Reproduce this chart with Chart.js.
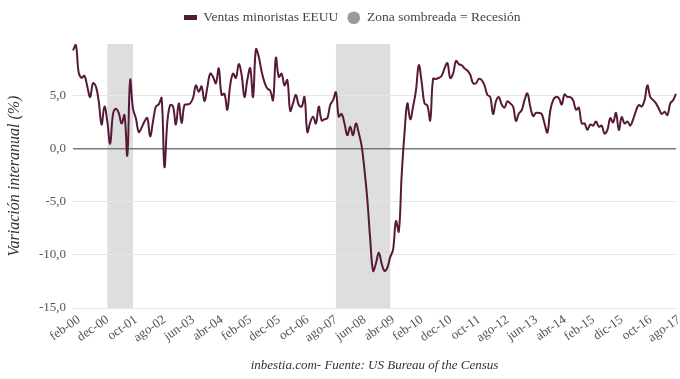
<!DOCTYPE html>
<html>
<head>
<meta charset="utf-8">
<script src="https://cdn.jsdelivr.net/npm/chart.js@4.4.1/dist/chart.umd.min.js"></script>
<style>
  html, body { margin: 0; padding: 0; background: #ffffff; }
  #wrap { width: 680px; height: 379px; position: relative; }
</style>
</head>
<body>
<div id="wrap"><canvas id="c" width="680" height="379"></canvas></div>
<script>
// ---- Data ----
const monthNames = ['ene','feb','mar','abr','may','jun','jul','ago','sep','oct','nov','dic'];
const startYear = 2000;
const startMonth = 1; // feb
const seriesName = 'Ventas minoristas EEUU';
const recessionName = 'Zona sombreada = Recesión';
const retailYoY = [
  9.3, 9.8, 7.2, 6.7, 6.9, 5.9, 4.9, 6.2, 5.9, 4.5,
  2.3, 4.0, 2.6, 0.5, 3.3, 3.8, 3.4, 2.4, 3.2, -0.6,
  6.5, 3.8, 2.9, 1.6, 2.0, 2.6, 2.9, 1.2, 2.6, 4.0,
  4.2, 4.8, -1.7, 2.5, 4.15, 4.0, 2.3, 4.3, 2.45, 4.15,
  4.2, 4.3, 4.8, 6.0, 5.4, 5.9, 4.5, 5.8, 7.1, 6.8,
  6.2, 7.6, 5.1, 5.2, 3.7, 6.0, 7.1, 6.7, 8.0, 7.0,
  4.9, 6.5, 7.6, 4.9, 9.4, 8.7, 7.3, 6.3, 5.7, 5.5,
  4.6, 8.6, 6.8, 7.1, 6.0, 6.5, 3.6, 4.3, 5.1, 4.15,
  4.0, 4.9, 1.6, 2.5, 3.05, 2.4, 4.0, 2.7, 2.8, 2.9,
  4.15, 4.6, 5.35, 3.05, 3.3, 2.4, 1.3, 2.1, 1.3, 2.4,
  1.5, 0.3, -2.0, -4.8, -8.5, -11.5, -10.8, -9.8, -10.8, -11.5,
  -11.2, -10.2, -9.5, -6.8, -7.8, -2.5, 1.5, 4.3, 2.8, 4.0,
  5.5, 7.9, 6.3, 4.3, 4.1, 2.7, 6.6, 6.6, 6.7, 6.9,
  7.6, 8.1, 6.7, 7.1, 8.3, 8.0, 7.9, 7.6, 7.4, 7.0,
  6.2, 6.2, 6.6, 6.5, 6.0, 5.1, 4.9, 3.3, 4.5, 4.9,
  4.2, 3.9, 4.5, 4.3, 4.0, 2.65, 3.35, 3.65, 4.6, 5.25,
  4.0, 3.1, 3.4, 3.4, 3.3, 2.4, 1.55, 3.6, 4.6, 4.9,
  4.8, 4.2, 5.15, 4.9, 4.9, 4.6, 3.7, 3.9, 2.4, 2.4,
  1.8, 2.3, 2.2, 2.6, 2.1, 2.2, 1.45, 1.8, 2.9, 2.5,
  3.4, 1.8, 3.0, 2.4, 2.6, 2.2, 2.8, 3.6, 4.15, 4.0,
  4.6, 6.0, 4.9, 4.6, 4.3, 3.8, 3.3, 3.5, 3.2, 4.3,
  4.6, 5.2
];
// category labels (monthly, from feb-00)
const categories = retailYoY.map((_, i) => {
  const m = (startMonth + i) % 12;
  const y = startYear + Math.floor((startMonth + i) / 12);
  return monthNames[m] + '-' + String(y % 100).padStart(2, '0');
});
// tick labels shown every 10 months, as in the original
const tickLabels = ['feb-00','dec-00','oct-01','ago-02','jun-03','abr-04','feb-05','dec-05','oct-06','ago-07',
  'jun-08','abr-09','feb-10','dec-10','oct-11','ago-12','jun-13','abr-14','feb-15','dic-15','oct-16','ago-17'];
const tickEvery = 10;
// shaded recession periods (first and last month, as category labels)
const recessionStart = ['feb-01', 'oct-07'];
const recessionEnd = ['nov-01', 'may-09'];

// ---- Styles ----
const lineColor = '#561a38';
const shadeColor = '#dedede';
const fontFamily = '"Liberation Serif", "DejaVu Serif", serif';

const swatch = document.createElement('canvas');
swatch.width = 13; swatch.height = 5;
(function(){ const g = swatch.getContext('2d'); g.fillStyle = lineColor; g.fillRect(0, 0, 13, 5); })();

const shadePlugin = {
  id: 'shade',
  beforeDraw(chart) {
    const { ctx, chartArea, scales } = chart;
    ctx.save();
    ctx.fillStyle = shadeColor;
    recessionStart.forEach((s, i) => {
      const x0 = scales.x.getPixelForValue(categories.indexOf(s));
      const x1 = scales.x.getPixelForValue(categories.indexOf(recessionEnd[i]));
      ctx.fillRect(x0, chartArea.top, x1 - x0, chartArea.bottom - chartArea.top);
    });
    ctx.restore();
  }
};

const legendFitPlugin = {
  id: 'legendFit',
  afterInit(chart) {
    const lg = chart.legend;
    if (lg) {
      const orig = lg.fit;
      lg.fit = function() { orig.call(this); this.height = 42; };
    }
  },
  afterLayout(chart) {
    const lg = chart.legend;
    if (lg) { lg.left += 14; lg.right += 14; }
  }
};

new Chart(document.getElementById('c'), {
  type: 'line',
  data: {
    labels: categories,
    datasets: [{
      label: seriesName,
      data: retailYoY,
      borderColor: lineColor,
      backgroundColor: lineColor,
      borderWidth: 2,
      pointRadius: 0,
      tension: 0.4,
      fill: false
    }]
  },
  options: {
    responsive: false,
    animation: false,
    devicePixelRatio: 1,
    layout: { padding: { left: 0, right: 4, top: 2, bottom: 0 } },
    plugins: {
      legend: {
        display: true,
        position: 'top',
        labels: {
          usePointStyle: true,
          boxHeight: 9,
          boxWidth: 13,
          padding: 9,
          color: '#444',
          font: { family: fontFamily, size: 13.5 },
          generateLabels: () => [
            { text: seriesName, pointStyle: swatch, fillStyle: lineColor, strokeStyle: lineColor, lineWidth: 0, hidden: false, datasetIndex: 0, fontColor: '#444' },
            { text: recessionName, pointStyle: 'circle', fillStyle: '#9a9a9a', strokeStyle: '#9a9a9a', lineWidth: 0, hidden: false, fontColor: '#444' }
          ]
        }
      },
      tooltip: { enabled: false }
    },
    scales: {
      x: {
        type: 'category',
        offset: false,
        grid: { display: false, drawTicks: false },
        border: { display: false },
        afterBuildTicks(scale) {
          scale.ticks = scale.ticks.filter(t => t.value % tickEvery === 0);
        },
        afterFit(scale) { scale.height = 71; scale.paddingRight = 0; scale.paddingLeft = 0; },
        ticks: {
          autoSkip: false,
          minRotation: 35,
          maxRotation: 35,
          padding: 4,
          labelOffset: 6,
          color: '#555',
          font: { family: fontFamily, size: 13 },
          callback: (value) => tickLabels[value / tickEvery]
        },
        title: {
          display: true,
          text: 'inbestia.com- Fuente: US Bureau of the Census',
          color: '#333',
          font: { family: fontFamily, size: 13, style: 'italic' },
          padding: { top: 4, bottom: 6 }
        }
      },
      y: {
        min: -15,
        max: 9.9,
        afterBuildTicks(scale) {
          scale.ticks = [-15, -10, -5, 0, 5].map(v => ({ value: v }));
        },
        afterFit(scale) { scale.width = 73; },
        grid: {
          drawTicks: false,
          color: (c) => c.tick && c.tick.value === 0 ? '#7a7a7a' : '#e6e6e6',
          lineWidth: (c) => c.tick && c.tick.value === 0 ? 1.5 : 1
        },
        border: { display: false },
        ticks: {
          padding: 7,
          color: '#555',
          font: { family: fontFamily, size: 13 },
          callback: (v) => v.toFixed(1).replace('.', ',')
        },
        title: {
          display: true,
          text: 'Variación interanual (%)',
          color: '#333',
          font: { family: fontFamily, size: 16, style: 'italic' },
          padding: { top: 5, bottom: 6 }
        }
      }
    }
  },
  plugins: [shadePlugin, legendFitPlugin]
});
</script>
</body>
</html>
